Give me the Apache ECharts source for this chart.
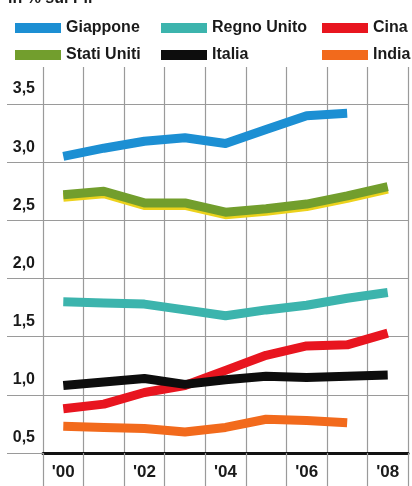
<!DOCTYPE html>
<html>
<head>
<meta charset="utf-8">
<script src="https://cdn.jsdelivr.net/npm/echarts@6/dist/echarts.min.js"></script>
<style>
html,body{margin:0;padding:0;background:#fff;}
#c{width:412px;height:486px;}
</style>
</head>
<body>
<div id="c"></div>
<script>
var years = ['2000','2001','2002','2003','2004','2005','2006','2007','2008'];
var yearLabels = ["'00","'01","'02","'03","'04","'05","'06","'07","'08"];
var yTicks = [0.5, 1.0, 1.5, 2.0, 2.5, 3.0, 3.5];
var giappone   = [3.05, 3.12, 3.18, 3.21, 3.16, 3.28, 3.40, 3.42, null];
var statiUniti = [2.72, 2.75, 2.65, 2.65, 2.57, 2.60, 2.64, 2.71, 2.79];
var regnoUnito = [1.80, 1.79, 1.78, 1.73, 1.68, 1.73, 1.77, 1.83, 1.88];
var italia     = [1.08, 1.11, 1.14, 1.09, 1.13, 1.16, 1.15, 1.16, 1.17];
var cina       = [0.88, 0.92, 1.02, 1.08, 1.21, 1.34, 1.42, 1.43, 1.53];
var india      = [0.73, 0.72, 0.71, 0.68, 0.72, 0.79, 0.78, 0.76, null];
var titleText = 'in % sul Pil';

var chart = echarts.init(document.getElementById('c'), null, {renderer:'canvas'});
var gridColor = '#9a9a9a';
var legendFont = {fontFamily:'Liberation Sans', fontWeight:'bold', fontSize:16, color:'#1a1a1a', lineHeight:16};
function mkLine(name, data, color, extra){
  var s = {
    name:name, type:'line', data:data, symbol:'none', connectNulls:false,
    itemStyle:{color:color},
    lineStyle:{color:color, width:9, cap:'butt', join:'round'},
    emphasis:{disabled:true}, animation:false
  };
  if (extra) Object.assign(s.lineStyle, extra);
  return s;
}
var option = {
  backgroundColor:'#fff',
  animation:false,
  graphic:[{type:'text', left:8, top:-9, style:{text:titleText, font:'bold 16px Liberation Sans', fill:'#1a1a1a'}}],
  legend:[
    {left:10, top:15, orient:'vertical', itemGap:11, itemWidth:46, itemHeight:10, icon:'rect', data:['Giappone','Stati Uniti'], textStyle:legendFont, selectedMode:false},
    {left:156, top:15, orient:'vertical', itemGap:11, itemWidth:46, itemHeight:10, icon:'rect', data:['Regno Unito','Italia'], textStyle:legendFont, selectedMode:false},
    {left:317, top:15, orient:'vertical', itemGap:11, itemWidth:46, itemHeight:10, icon:'rect', data:['Cina','India'], textStyle:legendFont, selectedMode:false}
  ],
  grid:{left:43, right:4, top:104, bottom:33, containLabel:false},
  xAxis:[
    {type:'category', data:yearLabels, boundaryGap:true, position:'bottom',
     axisLine:{show:true, lineStyle:{color:'#111', width:3}},
     axisTick:{show:true, interval:0, length:33, lineStyle:{color:gridColor, width:1.2}},
     axisLabel:{interval:1, margin:11, fontFamily:'Liberation Sans', fontWeight:'bold', fontSize:17, color:'#1a1a1a'},
     splitLine:{show:true, interval:0, lineStyle:{color:gridColor, width:1.2}}
    },
    {type:'category', data:yearLabels, boundaryGap:true, position:'top',
     axisLine:{show:false},
     axisTick:{show:true, interval:0, length:37, lineStyle:{color:gridColor, width:1.2}},
     axisLabel:{show:false},
     splitLine:{show:false}
    }
  ],
  yAxis:{
    type:'value', min:yTicks[0], max:yTicks[yTicks.length-1], interval:0.5,
    axisLine:{show:false},
    axisTick:{show:true, length:36, lineStyle:{color:gridColor, width:1.2}},
    axisLabel:{margin:8, verticalAlign:'bottom', padding:[0,0,7,0], fontFamily:'Liberation Sans', fontWeight:'bold', fontSize:16, color:'#1a1a1a',
      formatter:function(v){return v.toFixed(1).replace('.',',');}},
    splitLine:{show:true, lineStyle:{color:gridColor, width:1.2}}
  },
  series:[
    mkLine('Giappone', giappone, '#1c8fd3'),
    mkLine('Stati Uniti', statiUniti, '#729e2d', {shadowColor:'#ecd21c', shadowBlur:0, shadowOffsetY:2.5}),
    mkLine('Regno Unito', regnoUnito, '#3cb4ad'),
    mkLine('Cina', cina, '#e8151f'),
    mkLine('India', india, '#f26a1c'),
    mkLine('Italia', italia, '#0d0d0d')
  ]
};
chart.setOption(option);
</script>
</body>
</html>
